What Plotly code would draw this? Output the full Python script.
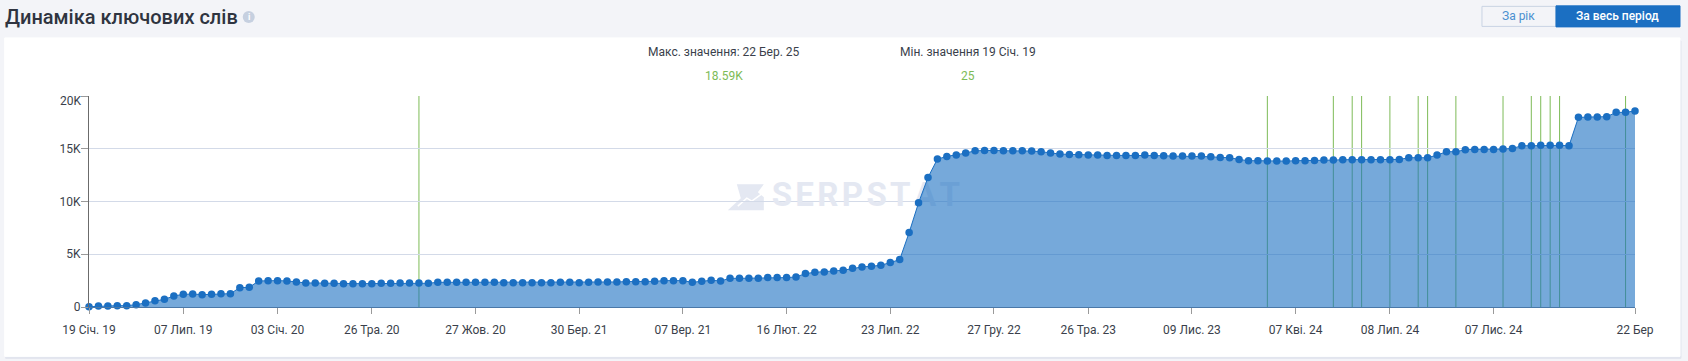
import plotly.graph_objects as go

W, H = 1688, 361
L, R, T, B = 89.3, 1635.0, 96.0, 306.7

values = [25, 95, 95, 127, 127, 220, 380, 600, 730, 1045, 1200, 1235, 1170, 1200, 1265, 1265, 1835, 1865, 2470, 2500,
          2500, 2470, 2375, 2280, 2280, 2250, 2250, 2215, 2215, 2215, 2215, 2250, 2250, 2280, 2280, 2280, 2250, 2340, 2340, 2340,
          2340, 2340, 2340, 2340, 2310, 2310, 2310, 2310, 2310, 2310, 2340, 2340, 2310, 2340, 2375, 2375, 2375, 2405, 2405, 2405,
          2435, 2500, 2500, 2500, 2340, 2435, 2530, 2470, 2720, 2720, 2720, 2720, 2785, 2785, 2785, 2850, 3165, 3290, 3325, 3420,
          3480, 3670, 3800, 3860, 3955, 4210, 4495, 7055, 9875, 12280, 14020, 14270, 14400, 14590, 14810, 14840, 14840, 14810, 14810, 14810,
          14780, 14720, 14590, 14495, 14465, 14435, 14400, 14400, 14370, 14370, 14370, 14370, 14400, 14370, 14340, 14305, 14305, 14305, 14305, 14245,
          14180, 14150, 13990, 13865, 13865, 13830, 13830, 13830, 13865, 13865, 13895, 13925, 13925, 13960, 13960, 13960, 13960, 13960, 13960, 13990,
          14150, 14150, 14150, 14400, 14720, 14720, 14905, 14940, 14940, 14940, 14970, 15035, 15285, 15285, 15320, 15320, 15320, 15285, 17975, 18005,
          18005, 18040, 18450, 18450, 18590]
x_index = list(range(len(values)))

x_tick_index = [0, 10, 20, 30, 41, 52, 63, 74, 85, 96, 106, 117, 128, 138, 149, 164]
x_tick_labels = ["19 Січ. 19", "07 Лип. 19", "03 Січ. 20", "26 Тра. 20", "27 Жов. 20", "30 Бер. 21", "07 Вер. 21",
                 "16 Лют. 22", "23 Лип. 22", "27 Гру. 22", "26 Тра. 23", "09 Лис. 23", "07 Кві. 24", "08 Лип. 24",
                 "07 Лис. 24", "22 Бер"]
y_tick_values = [0, 5000, 10000, 15000, 20000]
y_tick_labels = ["0", "5K", "10K", "15K", ""]
event_index = [35, 125, 132, 134, 135, 138, 141, 142, 145, 150, 153, 154, 155, 156, 163]

FONT = "Roboto, sans-serif"
BLUE = "#1b6fc2"
GREEN = "#7dbb57"
INK = "#3a3f4b"


def px(x):
    return (x - L) / (R - L)


def py(y):
    return (B - y) / (B - T)


def rect(x0, y0, x1, y1, fill, line=None, layer="below"):
    return dict(type="rect", xref="paper", yref="paper", x0=px(x0), x1=px(x1), y0=py(y0), y1=py(y1),
                fillcolor=fill, line=dict(color=line or fill, width=1), layer=layer)


def label(x, y, text, size=12, color=INK, anchor="center", weight=None):
    font = dict(family=FONT, size=size, color=color)
    if weight:
        font["weight"] = weight
    return dict(xref="paper", yref="paper", x=px(x), y=py(y), text=text, showarrow=False,
                xanchor=anchor, yanchor="middle", font=font)


def poly(points, close=True):
    body = " L ".join(f"{px(a)} {py(b)}" for a, b in points)
    return "M " + body + (" Z" if close else "")


shapes = [
    rect(6, 41, 1681, 358, "#e2e5ee"),
    rect(5, 38, 1680, 356, "#ffffff"),
    rect(1482, 6.5, 1556, 26.5, "rgba(0,0,0,0)", "#c9d3e3"),
    rect(1556, 6, 1680, 27, BLUE),
    dict(type="circle", xref="paper", yref="paper", x0=px(243), x1=px(255), y0=py(11), y1=py(23),
         fillcolor="#c6d0e0", line=dict(width=0), layer="below"),
    # Watermark emblem behind the area fill
    dict(type="path", xref="paper", yref="paper", layer="below", fillcolor="#e4e8f2", line=dict(width=0),
         path=poly([(737, 184), (764, 184), (758, 192), (764, 197), (764, 210), (728, 210), (741, 198)])),
    dict(type="path", xref="paper", yref="paper", layer="below", line=dict(color="#ffffff", width=1.5),
         path=poly([(738, 206), (747, 198), (752, 201), (763, 193)], close=False)),
]
for i in event_index:
    shapes.append(dict(type="line", xref="x", yref="y", x0=i, x1=i, y0=0, y1=20000,
                       line=dict(color=GREEN, width=1), layer="below"))

annotations = [
    label(3, 17, "Динаміка ключових слів", size=20, color="#2f3440", anchor="left", weight=500),
    label(249, 17, "i", size=9, color="#ffffff", weight=700),
    label(1519, 16.5, "За рік", size=12, color="#4a8fd0"),
    label(1618, 16.5, "За весь період", size=12, color="#ffffff", weight=500),
    label(724.6, 51.7, "Макс. значення: 22 Бер. 25", size=12),
    label(724.6, 75.7, "18.59K", size=12, color=GREEN),
    label(968, 51.7, "Мін. значення 19 Січ. 19", size=12),
    label(968, 75.7, "25", size=12, color=GREEN),
    label(83, 100.5, "20K", size=12, anchor="right"),
]

fig = go.Figure()
fig.add_trace(go.Scatter(x=[82.4], y=[10400], mode="text", text=["<b>S\u200aE\u200aR\u200aP\u200aS\u200aT\u200aA\u200aT</b>"],
                         textfont=dict(family=FONT, size=33, color="#e4e8f2"), hoverinfo="skip", showlegend=False))
fig.add_trace(go.Scatter(x=x_index, y=values, mode="lines+markers", fill="tozeroy",
                         fillcolor="rgba(27,111,194,0.6)", line=dict(color=BLUE, width=1),
                         marker=dict(color=BLUE, size=7.5), cliponaxis=False, showlegend=False))

fig.update_layout(
    width=W, height=H, autosize=False,
    margin=dict(l=L, r=W - R, t=T, b=H - B, pad=0),
    paper_bgcolor="#f3f4f8", plot_bgcolor="rgba(0,0,0,0)",
    font=dict(family=FONT, size=12, color=INK),
    shapes=shapes, annotations=annotations, showlegend=False,
    xaxis=dict(range=[0, 164], tickmode="array", tickvals=x_tick_index, ticktext=x_tick_labels,
               showgrid=False, zeroline=False, showline=True, linecolor="#4a78a8", linewidth=1,
               ticks="outside", ticklen=6, tickcolor="#9a9a9a", tickwidth=1, ticklabelstandoff=6, layer="above traces"),
    yaxis=dict(range=[0, 20000], tickmode="array", tickvals=y_tick_values, ticktext=y_tick_labels,
               showgrid=True, gridcolor="#d3dae8", gridwidth=1, zeroline=False, showline=True,
               linecolor="#6b6b6b", linewidth=1, ticks="outside", ticklen=7, tickcolor="#9a9a9a", tickwidth=1,
               ticklabelstandoff=-2),
)
fig.write_html("out.html", config=dict(displayModeBar=False),
               post_script="document.body.style.margin='0';document.documentElement.style.overflow='hidden';")
